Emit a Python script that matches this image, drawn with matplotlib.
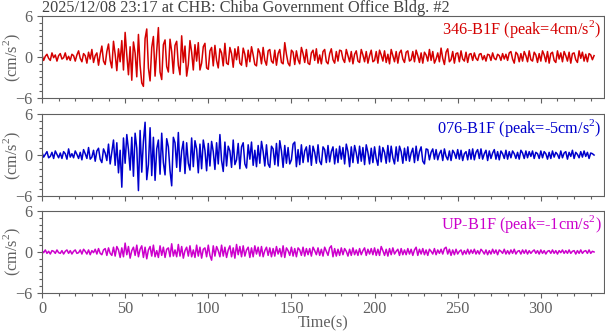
import numpy as np
import matplotlib
matplotlib.use("Agg")
import matplotlib.pyplot as plt
from matplotlib.ticker import MultipleLocator

# acceleration records (cm/s^2), one sample per second
ch_346 = [
    0.3,-0.5,0.1,0.4,-0.2,-0.5,0.6,-0.1,0.3,-0.6,0.2,0.5,-0.3,-0.1,0.6,-0.4,0.1,-0.5,0.4,0.2,
    -0.6,0.3,0.9,-0.2,-0.7,0.5,0.2,-0.9,0.7,-0.3,1.1,-0.8,0.2,0.6,-1.2,0.4,1.6,-0.6,-1.1,0.8,
    1.9,-0.5,-1.6,2.3,0.4,-2.0,1.2,-0.7,2.4,-1.9,3.6,0.3,-2.6,1.5,-3.4,2.2,0.6,-2.9,3.3,-1.2,
    -3.8,-4.3,2.7,4.1,-1.6,-3.5,1.4,3.0,-2.8,0.9,4.3,-2.2,-3.3,1.8,2.5,-1.4,-2.2,2.6,0.8,-2.4,
    1.7,2.3,-1.2,-2.6,3.1,-0.8,1.6,-2.8,-1.1,2.4,0.7,-1.9,1.8,-0.6,2.1,-1.9,-0.9,1.5,2.0,-1.6,
    -1.8,0.9,1.4,-1.3,1.7,-0.5,-1.6,1.2,0.6,-1.3,2.0,-0.9,-1.1,1.4,0.5,-1.5,1.2,-0.4,1.5,-0.9,
    -1.2,1.3,0.4,-1.4,1.0,-0.7,1.5,0.3,-1.1,-1.3,1.2,0.6,-1.0,1.4,-0.5,-1.2,0.9,1.1,-0.6,-0.9,
    1.0,-1.2,0.5,1.1,-0.8,-1.0,2.1,0.4,-0.9,-1.3,1.0,0.7,-1.1,0.9,-0.4,-1.0,1.4,0.5,-0.8,1.1,
    -0.9,-1.1,0.6,1.0,-0.5,1.2,-0.9,0.3,-1.0,0.8,1.1,-0.7,-1.0,0.5,1.2,-0.4,-0.9,0.8,-0.6,1.0,
    0.9,-0.3,-0.8,1.1,0.2,-0.7,0.8,-1.0,0.4,0.9,-0.6,-0.8,1.1,0.3,-0.7,0.8,-0.9,0.2,1.0,-0.7,
    -0.5,0.8,-0.9,1.0,0.3,-0.6,0.9,-0.8,0.4,-1.0,1.1,0.2,-0.7,0.8,-0.9,0.6,1.0,-0.3,-0.8,0.7,
    0.9,-0.6,-0.4,0.8,-0.7,1.0,0.2,-0.8,0.6,-0.9,0.7,0.3,-0.6,1.1,-0.5,0.8,-0.9,-0.3,0.6,-0.7,
    1.3,-0.2,-1.1,0.7,1.2,-0.7,-0.4,0.8,-0.9,0.5,0.6,-0.7,0.9,-0.3,-0.6,0.7,-0.8,0.4,0.5,-0.5,
    0.6,-0.2,-0.5,0.4,0.5,-0.4,0.2,-0.6,0.4,0.3,-0.5,0.6,-0.2,-0.4,0.4,0.2,-0.5,0.5,-0.3,0.4,
    -0.5,0.6,0.8,-0.3,-0.9,0.7,0.4,-0.7,0.5,-0.6,0.8,0.2,-0.7,0.9,-0.4,-0.6,0.7,0.3,-0.8,0.5,
    -0.6,0.9,0.3,-0.7,0.8,-0.9,0.5,0.7,-0.5,-0.8,0.9,-0.3,0.6,-0.7,0.8,0.2,-0.6,0.7,-0.9,0.5,
    0.6,-0.4,-0.8,0.9,-0.2,0.7,-0.6,0.4,-0.7,0.5,0.3,-0.4,0.2,
]
ch_076 = [
    0.4,-0.3,0.1,0.5,-0.4,-0.2,0.4,-0.5,0.6,0.1,-0.4,0.3,-0.5,0.5,0.2,-0.6,0.9,-0.3,0.2,-0.4,
    0.6,0.1,-0.5,0.4,-0.7,0.8,0.2,-0.5,1.1,-0.6,-0.3,0.7,-0.9,0.6,1.0,-0.6,-1.1,0.9,0.3,-0.8,
    1.6,-1.3,0.5,2.2,-1.5,1.8,-2.6,0.7,-4.7,2.5,-1.2,3.0,0.8,-2.2,2.6,-3.1,3.2,1.0,-5.2,3.6,
    -2.5,2.0,4.8,-3.6,-1.4,4.0,-3.0,2.6,-3.7,0.9,2.2,-2.8,3.2,-1.1,-2.9,2.4,1.2,-2.3,-4.5,2.6,
    1.8,-1.8,3.3,-2.4,0.6,2.0,-2.7,1.8,-1.2,-2.2,2.5,-1.7,2.1,0.9,-2.6,1.6,-2.0,2.2,0.7,-2.3,
    1.7,-1.6,2.0,0.5,-2.1,1.8,-1.3,3.0,-0.8,-2.4,1.9,-1.6,1.3,0.6,-1.8,2.2,-1.4,-0.7,1.7,-2.0,
    1.2,1.8,-1.3,-1.9,1.5,-0.6,1.9,-1.5,0.7,-1.7,1.4,-1.2,2.0,0.5,-1.6,1.5,-1.3,-1.8,1.3,0.9,
    -1.4,1.7,-1.6,2.1,0.6,-1.8,1.4,-1.2,1.1,-1.3,-0.7,1.6,1.9,-1.7,0.8,-1.4,1.5,-1.1,0.6,1.2,
    -1.0,1.4,-1.5,1.3,0.4,-1.2,1.5,-0.9,-1.4,1.2,0.8,-1.1,1.4,-1.0,0.5,1.2,-1.3,0.9,-1.1,1.3,
    -0.6,1.1,-1.3,1.6,0.5,-1.7,1.2,-1.1,1.4,0.3,-1.2,1.3,-0.9,1.1,-1.4,1.5,0.4,-1.3,1.0,-1.1,
    1.2,-0.5,-1.5,1.3,-1.0,1.1,0.4,-1.2,1.4,-1.0,1.3,-0.4,-1.3,1.2,-0.9,1.3,0.5,-1.2,1.0,-0.8,
    1.2,-0.9,0.3,1.0,-1.1,1.3,-0.8,0.5,1.2,-0.9,-1.3,0.9,0.8,-0.7,0.4,0.9,-0.6,0.8,-0.7,0.2,
    0.7,-0.8,0.9,-0.2,-0.7,0.6,-0.8,0.7,0.3,-0.5,0.8,-0.6,0.7,-0.8,0.2,0.5,-0.7,0.8,-0.6,0.9,
    -0.7,0.4,0.8,-0.5,0.9,-0.6,0.2,0.7,-0.8,0.6,-0.5,0.3,0.8,-0.6,0.5,-0.7,0.6,0.2,-0.5,0.7,
    -0.6,0.5,-0.4,0.6,0.2,-0.5,0.4,-0.6,0.7,0.3,-0.5,0.6,-0.4,0.5,-0.2,0.6,-0.5,0.4,0.2,-0.5,
    0.6,-0.4,0.5,0.2,-0.6,0.4,-0.5,0.6,-0.3,0.4,0.1,-0.5,0.6,-0.4,0.3,0.5,-0.6,0.4,-0.2,0.7,
    -0.5,0.4,0.1,-0.4,0.5,-0.3,0.6,-0.2,0.4,-0.5,0.3,0.2,0.0,
]
ch_up = [
    0.2,-0.1,0.3,-0.2,0.1,-0.3,0.2,0.1,-0.2,0.3,-0.1,-0.2,0.2,-0.3,0.1,0.3,-0.2,0.2,-0.3,0.1,
    0.3,-0.2,-0.1,0.3,-0.3,0.4,0.1,-0.3,0.3,-0.4,0.2,-0.1,0.4,-0.3,0.5,-0.2,-0.4,0.3,0.5,-0.5,
    0.6,-0.2,-0.5,0.7,-0.6,0.8,0.3,-0.8,0.6,-0.7,1.3,-0.4,0.8,-0.9,0.2,0.7,-0.5,1.0,-0.7,0.4,
    0.9,-0.8,0.7,-1.0,0.3,0.8,-0.6,1.0,-0.7,0.2,-0.8,0.9,-0.5,0.7,-0.8,0.4,0.6,-0.7,1.2,-0.6,
    0.3,-0.7,1.1,-0.6,0.8,-0.9,0.2,0.7,-0.6,0.9,-0.7,0.3,-0.8,1.0,-0.6,0.7,-0.9,0.4,0.6,-0.7,
    1.0,-0.5,-1.2,0.9,-0.6,0.8,0.2,-0.7,1.0,-0.6,0.7,-0.8,0.3,0.9,-0.7,0.6,-0.9,1.1,-0.4,0.8,
    -0.7,0.9,-0.6,0.3,0.7,-0.8,0.6,-0.7,0.9,-0.3,0.7,-0.6,0.8,-0.7,0.2,0.7,-0.5,0.6,-0.7,0.5,
    -0.6,0.8,-0.3,0.5,-0.7,0.9,-0.8,0.6,0.2,-0.5,0.7,-0.6,0.5,-0.7,0.6,0.3,-0.5,0.7,-0.6,0.5,
    -0.4,0.5,-0.6,0.7,0.2,-0.4,0.6,-0.5,0.4,-0.6,0.7,0.1,-0.5,0.6,0.9,-0.7,0.5,-0.6,0.4,-0.5,
    0.6,-0.4,0.5,0.1,-0.6,0.4,-0.5,0.6,-0.4,0.3,-0.5,0.5,-0.4,0.2,0.6,-0.5,0.4,-0.3,0.5,-0.4,
    0.6,-0.5,0.4,-0.5,0.8,0.2,-0.5,0.4,-0.6,0.5,-0.4,0.6,-0.3,0.1,0.4,-0.5,0.5,-0.4,0.3,-0.4,
    0.5,-0.3,0.4,-0.5,0.3,0.7,-0.5,0.4,-0.3,0.5,-0.4,0.3,-0.5,0.4,0.1,-0.3,0.5,-0.4,0.3,-0.2,
    0.4,-0.3,0.5,0.7,-0.3,0.4,-0.5,0.3,-0.4,0.4,-0.3,0.1,0.3,-0.4,0.2,-0.3,0.4,-0.3,0.3,-0.2,
    0.4,-0.3,0.2,-0.3,0.4,0.1,-0.3,0.3,-0.4,0.2,-0.3,0.4,-0.2,0.3,-0.4,0.3,0.1,-0.2,0.4,-0.3,
    0.2,-0.3,0.3,-0.2,0.4,-0.3,0.1,0.2,-0.3,0.3,-0.2,0.3,-0.3,0.2,-0.2,0.1,0.3,-0.2,0.2,-0.3,
    0.3,-0.2,0.2,-0.3,0.1,0.2,-0.2,0.3,-0.2,0.2,-0.3,0.2,-0.1,0.3,-0.2,0.2,-0.2,0.3,-0.2,0.1,
    0.2,-0.3,0.2,-0.2,0.3,-0.2,0.1,0.2,-0.2,0.3,-0.2,0.1,0.0,
]

series = [ch_346, ch_076, ch_up]
labels = ["346-B1F (peak=4cm/s$^2$)", "076-B1F (peak=-5cm/s$^2$)", "UP-B1F (peak=-1cm/s$^2$)"]
colors = ["#d40000", "#0000cc", "#cc00cc"]
title = "2025/12/08 23:17 at CHB: Chiba Government Office Bldg. #2"

plt.rcParams['font.family'] = ['Liberation Serif', 'DejaVu Serif']
plt.rcParams['mathtext.fontset'] = 'custom'
plt.rcParams['mathtext.rm'] = 'Liberation Serif'
gray = "#606060"
fs = 11.7

fig = plt.figure(figsize=(6.05, 3.34), dpi=100)
bottoms = [0.7066, 0.413, 0.1228]
for i in range(3):
    ax = fig.add_axes([0.0694, bottoms[i], 0.929, 0.2455])
    y = series[i]
    t = np.arange(len(y))
    ax.plot(t, y, color=colors[i], lw=1.1)
    ax.set_xlim(0, 338)
    ax.set_ylim(-6, 6)
    ax.set_yticks([-6, 0, 6])
    ax.yaxis.set_minor_locator(MultipleLocator(1))
    ax.xaxis.set_major_locator(MultipleLocator(50))
    ax.xaxis.set_minor_locator(MultipleLocator(10))
    ax.tick_params(which='both', colors=gray, labelsize=fs, labelcolor=gray)
    ax.tick_params(which='major', length=3.6, width=0.8)
    ax.tick_params(which='minor', length=2.2, width=0.8)
    ax.tick_params(axis='x', pad=2)
    for s in ax.spines.values():
        s.set_color(gray)
        s.set_linewidth(0.8)
    ax.set_ylabel("(cm/s$^2$)", color=gray, fontsize=fs)
    ax.yaxis.set_label_coords(-0.034, 0.5)
    ax.text(0.995, 0.97, labels[i], transform=ax.transAxes, ha='right', va='top',
            color=colors[i], fontsize=fs)
    if i < 2:
        ax.set_xticklabels([])
    else:
        ax.set_xlabel("Time(s)", color=gray, fontsize=fs, labelpad=-1)
    if i == 0:
        ax.set_title(title, loc='left', color="#404040", fontsize=fs, pad=2)

fig.savefig("out.png", dpi=100)
